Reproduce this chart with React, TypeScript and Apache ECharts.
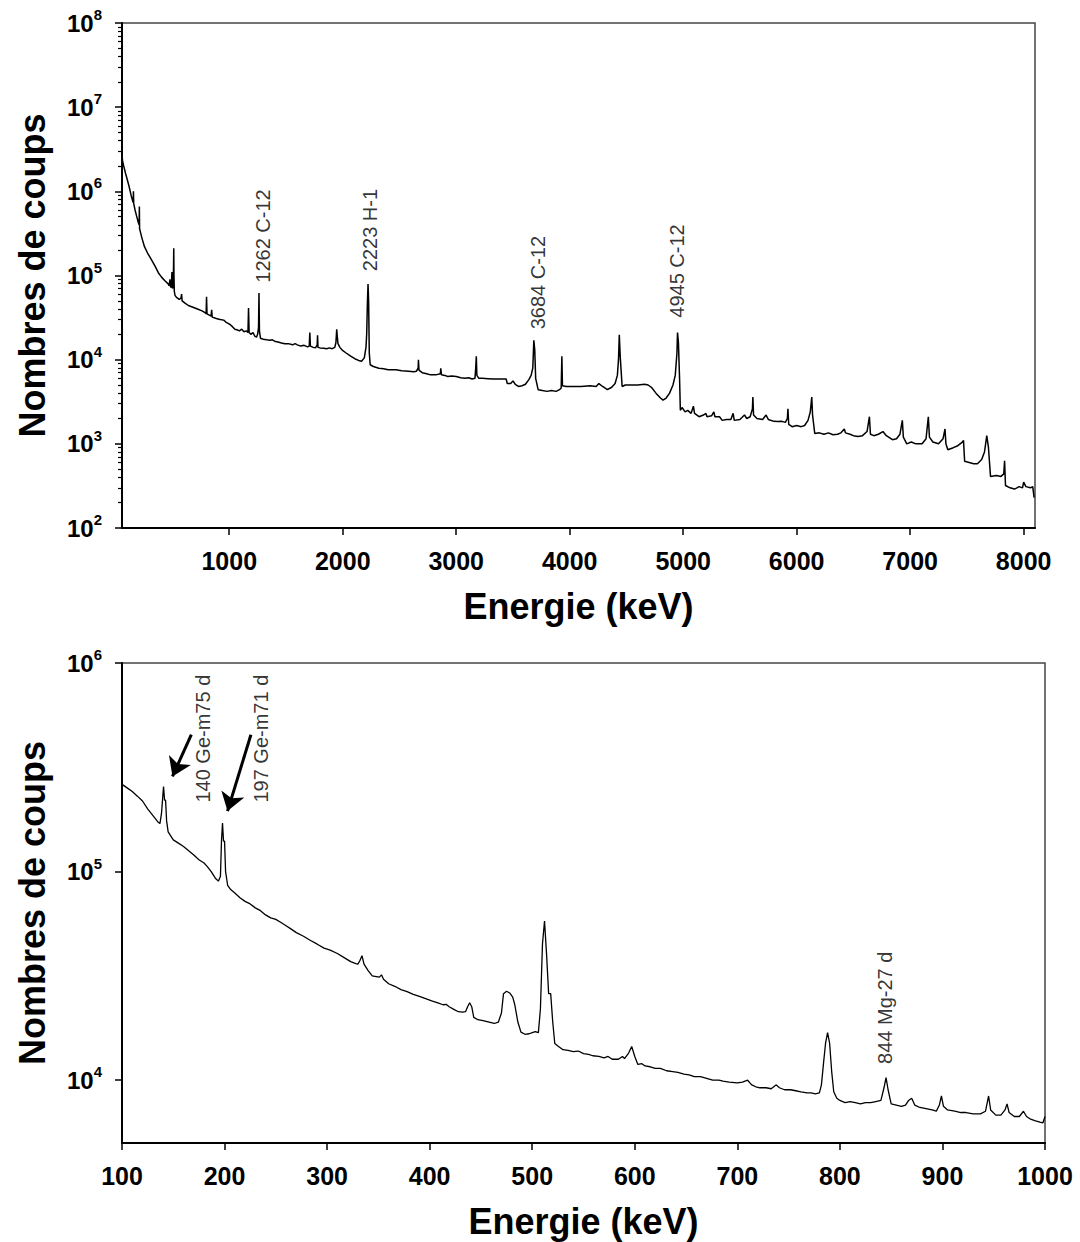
import React, { useEffect, useRef } from "react";
import * as echarts from "echarts";

const FONT = "Liberation Sans, Arial, sans-serif";

// ---- Top spectrum (0 - 8100 keV) : [energy keV, counts]
const topSpectrum: [number, number][] = [
  [56, 2.6e6], [60, 2.3e6], [70, 2.0e6], [86, 1.64e6], [100, 1.4e6], [117, 1.15e6], [135, 9.0e5], [150, 7.6e5],
  [154, 7.4e5], [156, 1.0e6], [158, 7.2e5], [170, 6.0e5], [185, 5.0e5], [200, 4.2e5], [206, 4.0e5], [208, 6.6e5],
  [210, 3.6e5], [230, 2.8e5], [253, 2.2e5], [280, 1.85e5], [314, 1.54e5], [345, 1.3e5], [375, 1.08e5], [405, 9.5e4],
  [435, 8.6e4], [460, 8.0e4], [470, 7.6e4], [478, 9.0e4], [482, 7.4e4], [490, 7.2e4], [495, 1.1e5], [500, 7.0e4],
  [505, 7.5e4], [509, 1.2e5], [511, 2.1e5], [513, 1.0e5], [516, 6.5e4], [522, 5.8e4], [535, 5.5e4], [560, 5.2e4],
  [575, 5.4e4], [580, 6.0e4], [585, 5.0e4], [610, 4.7e4], [640, 4.4e4], [680, 4.2e4], [720, 4.0e4], [760, 3.8e4],
  [790, 3.6e4], [796, 3.5e4], [800, 5.6e4], [804, 3.5e4], [820, 3.4e4], [840, 3.3e4], [845, 3.9e4], [850, 3.2e4],
  [880, 3.1e4], [900, 3.05e4], [920, 3.0e4], [951, 2.95e4], [970, 2.8e4], [990, 2.7e4], [1010, 2.6e4], [1030, 2.45e4],
  [1050, 2.3e4], [1073, 2.25e4], [1090, 2.2e4], [1110, 2.3e4], [1130, 2.15e4], [1150, 2.2e4], [1165, 2.1e4], [1170, 4.1e4],
  [1175, 2.1e4], [1190, 2.0e4], [1210, 2.1e4], [1225, 1.9e4], [1240, 1.85e4], [1250, 2.0e4], [1258, 2.4e4], [1262, 6.2e4],
  [1266, 2.2e4], [1275, 1.8e4], [1300, 1.75e4], [1330, 1.72e4], [1360, 1.7e4], [1380, 1.72e4], [1407, 1.64e4], [1430, 1.62e4],
  [1460, 1.58e4], [1490, 1.55e4], [1520, 1.55e4], [1559, 1.5e4], [1580, 1.55e4], [1600, 1.5e4], [1630, 1.45e4], [1660, 1.48e4],
  [1690, 1.42e4], [1705, 1.45e4], [1710, 2.1e4], [1715, 1.45e4], [1740, 1.4e4], [1760, 1.38e4], [1775, 1.5e4], [1778, 1.95e4],
  [1782, 1.4e4], [1800, 1.38e4], [1832, 1.37e4], [1860, 1.35e4], [1880, 1.38e4], [1907, 1.35e4], [1930, 1.4e4], [1940, 1.6e4],
  [1947, 2.3e4], [1952, 1.9e4], [1958, 1.55e4], [1975, 1.4e4], [1995, 1.3e4], [2030, 1.2e4], [2070, 1.1e4], [2110, 1.02e4],
  [2140, 9.8e3], [2166, 9.6e3], [2190, 1.05e4], [2205, 1.4e4], [2211, 2.0e4], [2218, 5.0e4], [2223, 7.9e4], [2228, 5.0e4],
  [2234, 1.2e4], [2242, 8.7e3], [2270, 8.3e3], [2318, 7.9e3], [2360, 7.8e3], [2400, 7.6e3], [2469, 7.6e3], [2520, 7.4e3],
  [2580, 7.3e3], [2625, 7.2e3], [2650, 7.3e3], [2665, 8.0e3], [2667, 1.0e4], [2672, 7.5e3], [2700, 7.0e3], [2740, 6.8e3],
  [2773, 6.6e3], [2820, 6.6e3], [2860, 6.8e3], [2864, 7.9e3], [2870, 6.6e3], [2900, 6.5e3], [2925, 6.3e3], [2960, 6.4e3],
  [3000, 6.3e3], [3040, 6.1e3], [3077, 6.0e3], [3110, 6.1e3], [3140, 5.9e3], [3165, 6.0e3], [3172, 8.0e3], [3177, 1.1e4],
  [3182, 6.5e3], [3200, 6.0e3], [3230, 6.0e3], [3280, 5.95e3], [3330, 5.9e3], [3380, 5.9e3], [3420, 5.9e3], [3440, 5.9e3],
  [3450, 5.2e3], [3480, 5.2e3], [3500, 5.6e3], [3520, 5.1e3], [3549, 4.8e3], [3580, 4.9e3], [3610, 5.1e3], [3640, 5.8e3],
  [3660, 6.5e3], [3675, 8.0e3], [3684, 1.7e4], [3692, 1.3e4], [3700, 6.0e3], [3722, 4.4e3], [3760, 4.3e3], [3800, 4.2e3],
  [3840, 4.3e3], [3880, 4.2e3], [3910, 4.4e3], [3925, 4.6e3], [3931, 1.1e4], [3936, 4.9e3], [3970, 4.8e3], [4036, 4.8e3],
  [4100, 4.8e3], [4180, 4.9e3], [4233, 4.8e3], [4257, 5.2e3], [4290, 4.8e3], [4332, 4.4e3], [4370, 4.7e3], [4400, 5.2e3],
  [4420, 6.5e3], [4430, 1.0e4], [4437, 1.97e4], [4445, 1.1e4], [4462, 4.8e3], [4490, 5.0e3], [4528, 5.0e3], [4600, 5.0e3],
  [4660, 5.1e3], [4691, 5.0e3], [4720, 4.7e3], [4760, 4.0e3], [4800, 3.5e3], [4822, 3.3e3], [4850, 3.5e3], [4880, 4.0e3],
  [4910, 5.0e3], [4930, 6.5e3], [4945, 1.2e4], [4950, 2.1e4], [4958, 1.6e4], [4968, 6.0e3], [4975, 2.5e3], [4990, 2.7e3],
  [5017, 2.4e3], [5040, 2.5e3], [5070, 2.3e3], [5090, 2.8e3], [5100, 2.3e3], [5140, 2.1e3], [5178, 2.2e3], [5200, 2.3e3],
  [5210, 2.1e3], [5250, 2.15e3], [5270, 2.4e3], [5280, 2.1e3], [5320, 2.1e3], [5344, 1.9e3], [5380, 1.95e3], [5420, 1.95e3],
  [5440, 2.3e3], [5450, 1.9e3], [5500, 1.95e3], [5540, 2.2e3], [5560, 2.0e3], [5590, 2.1e3], [5610, 2.6e3], [5614, 3.6e3],
  [5620, 2.2e3], [5650, 2.0e3], [5700, 1.95e3], [5730, 2.2e3], [5750, 1.95e3], [5800, 1.85e3], [5833, 1.84e3], [5870, 1.85e3],
  [5900, 1.8e3], [5918, 2.0e3], [5923, 2.6e3], [5930, 1.7e3], [5960, 1.6e3], [6000, 1.65e3], [6040, 1.6e3], [6070, 1.65e3],
  [6100, 1.9e3], [6120, 2.4e3], [6133, 3.6e3], [6140, 2.2e3], [6159, 1.33e3], [6200, 1.35e3], [6240, 1.3e3], [6280, 1.35e3],
  [6320, 1.28e3], [6360, 1.3e3], [6390, 1.35e3], [6420, 1.5e3], [6430, 1.35e3], [6470, 1.3e3], [6500, 1.25e3], [6540, 1.22e3],
  [6580, 1.25e3], [6620, 1.4e3], [6641, 2.1e3], [6650, 1.3e3], [6680, 1.25e3], [6720, 1.3e3], [6760, 1.4e3], [6790, 1.25e3],
  [6844, 1.12e3], [6880, 1.15e3], [6910, 1.3e3], [6931, 1.9e3], [6940, 1.2e3], [6970, 1.0e3], [7010, 1.05e3], [7050, 1.0e3],
  [7105, 1.0e3], [7140, 1.15e3], [7160, 2.1e3], [7170, 1.2e3], [7200, 1.05e3], [7250, 1.0e3], [7290, 1.15e3], [7307, 1.5e3],
  [7315, 1.0e3], [7332, 850], [7380, 900], [7420, 950], [7460, 1.05e3], [7470, 1.1e3], [7480, 620], [7520, 600],
  [7560, 580], [7593, 580], [7630, 650], [7655, 800], [7675, 1.25e3], [7690, 900], [7708, 410], [7760, 420],
  [7800, 410], [7825, 440], [7832, 630], [7840, 320], [7880, 300], [7920, 290], [7960, 310], [7990, 300],
  [8000, 350], [8020, 310], [8060, 300], [8080, 310], [8092, 230],
];

// ---- Bottom spectrum (100 - 1000 keV) : [energy keV, counts]
const bottomSpectrum: [number, number][] = [
  [100, 2.62e5], [105, 2.52e5], [110, 2.42e5], [115, 2.3e5], [120, 2.18e5], [125, 2.0e5], [130, 1.86e5], [135, 1.73e5],
  [137, 1.7e5], [138.5, 1.9e5], [139.5, 2.2e5], [140.5, 2.56e5], [141.5, 2.2e5], [142.5, 2.2e5], [143.5, 1.75e5], [145, 1.55e5],
  [150, 1.42e5], [155, 1.37e5], [160, 1.32e5], [165, 1.26e5], [170, 1.2e5], [175, 1.14e5], [180, 1.1e5], [183, 1.06e5],
  [187, 1.0e5], [191, 9.3e4], [194, 9.0e4], [196, 9.5e4], [197, 1.4e5], [198, 1.71e5], [199, 1.4e5], [200, 1.4e5],
  [201, 1.0e5], [203, 8.6e4], [206, 8.2e4], [210, 7.9e4], [215, 7.5e4], [220, 7.2e4], [225, 7.0e4], [230, 6.7e4],
  [235, 6.5e4], [240, 6.2e4], [245, 6.0e4], [250, 5.9e4], [255, 5.7e4], [260, 5.5e4], [265, 5.3e4], [270, 5.1e4],
  [277, 4.9e4], [283, 4.7e4], [290, 4.5e4], [297, 4.3e4], [303, 4.2e4], [310, 4.05e4], [317, 3.86e4], [323, 3.7e4],
  [328, 3.62e4], [330, 3.6e4], [332, 3.75e4], [334, 3.95e4], [336, 3.6e4], [340, 3.35e4], [344, 3.16e4], [348, 3.14e4],
  [351, 3.12e4], [353, 3.2e4], [355, 3.05e4], [360, 2.9e4], [366, 2.82e4], [372, 2.72e4], [378, 2.66e4], [384, 2.58e4],
  [390, 2.52e4], [396, 2.46e4], [402, 2.4e4], [408, 2.35e4], [413, 2.3e4], [416, 2.31e4], [419, 2.25e4], [424, 2.18e4],
  [428, 2.13e4], [432, 2.12e4], [435, 2.13e4], [437, 2.25e4], [439, 2.35e4], [441, 2.25e4], [443, 2.0e4], [447, 1.95e4],
  [452, 1.93e4], [458, 1.9e4], [463, 1.87e4], [467, 1.9e4], [470, 2.1e4], [472, 2.6e4], [475, 2.67e4], [478, 2.62e4],
  [481, 2.5e4], [483, 2.3e4], [486, 1.9e4], [489, 1.7e4], [493, 1.66e4], [497, 1.67e4], [500, 1.69e4], [503, 1.71e4],
  [506, 1.69e4], [508, 2.2e4], [510, 4.5e4], [512, 5.8e4], [514, 4.0e4], [516, 2.6e4], [518, 2.6e4], [520, 1.9e4],
  [522, 1.5e4], [525, 1.46e4], [530, 1.4e4], [535, 1.39e4], [540, 1.37e4], [545, 1.38e4], [550, 1.34e4], [555, 1.33e4],
  [559, 1.31e4], [565, 1.3e4], [570, 1.28e4], [574, 1.3e4], [578, 1.26e4], [584, 1.26e4], [588, 1.3e4], [590, 1.27e4],
  [594, 1.35e4], [597, 1.45e4], [600, 1.3e4], [603, 1.19e4], [607, 1.2e4], [610, 1.17e4], [615, 1.16e4], [620, 1.14e4],
  [625, 1.14e4], [631, 1.11e4], [637, 1.1e4], [642, 1.09e4], [648, 1.07e4], [653, 1.06e4], [658, 1.04e4], [664, 1.04e4],
  [670, 1.02e4], [676, 1.0e4], [682, 1.0e4], [686, 9.9e3], [692, 9.8e3], [700, 9.7e3], [705, 9.8e3], [710, 1.0e4],
  [714, 9.5e3], [718, 9.3e3], [722, 9.2e3], [728, 9.2e3], [733, 9.1e3], [738, 9.5e3], [741, 9.2e3], [746, 9.0e3],
  [752, 9.0e3], [757, 8.9e3], [762, 8.8e3], [768, 8.7e3], [772, 8.7e3], [776, 8.6e3], [780, 8.7e3], [782, 9.5e3],
  [784, 1.2e4], [786, 1.5e4], [788, 1.69e4], [790, 1.5e4], [792, 1.1e4], [794, 8.8e3], [797, 8.2e3], [800, 8.0e3],
  [805, 7.8e3], [810, 7.9e3], [815, 7.8e3], [820, 7.7e3], [825, 7.8e3], [830, 7.8e3], [835, 7.9e3], [840, 8.0e3],
  [843, 9.2e3], [845, 1.03e4], [847, 9.0e3], [850, 7.7e3], [855, 7.6e3], [860, 7.5e3], [864, 7.6e3], [867, 8.0e3],
  [870, 8.2e3], [873, 7.6e3], [878, 7.4e3], [884, 7.3e3], [890, 7.2e3], [894, 7.1e3], [897, 7.6e3], [899, 8.4e3],
  [901, 7.5e3], [905, 7.2e3], [912, 7.1e3], [918, 7.0e3], [923, 7.0e3], [930, 6.9e3], [937, 6.9e3], [942, 7.1e3],
  [945, 8.4e3], [947, 7.2e3], [952, 6.8e3], [957, 6.8e3], [961, 7.2e3], [963, 7.7e3], [965, 7.0e3], [970, 6.7e3],
  [975, 6.7e3], [979, 7.1e3], [982, 6.7e3], [986, 6.5e3], [990, 6.4e3], [995, 6.3e3], [998, 6.25e3], [1000, 6.7e3],
];

// ---- Peak annotations
const topLabelText = ["1262 C-12", "2223 H-1", "3684 C-12", "4945 C-12"];
const topLabelEnergy = [1300, 2242, 3728, 4952];
const topLabelCounts = [8.1e4, 1.11e5, 2.26e4, 3.11e4];

const bottomLabelText = ["140 Ge-m75 d", "197 Ge-m71 d", "844 Mg-27 d"];
const bottomLabelEnergy = [179, 236.5, 844.5];
const bottomLabelCounts = [2.13e5, 2.13e5, 1.19e4];

// arrows: start and end points [energy keV, counts]
const arrowStart: [number, number][] = [[167.6, 4.53e5], [225.7, 4.53e5]];
const arrowEnd: [number, number][] = [[149.2, 2.86e5], [202.9, 1.95e5]];

// ---- Ticks
const topXTicks = [1000, 2000, 3000, 4000, 5000, 6000, 7000, 8000];
const topYTicks = [1e2, 1e3, 1e4, 1e5, 1e6, 1e7, 1e8];
const topYMinorTicks: number[] = [];
for (let d = 2; d < 8; d++) for (let m = 2; m <= 9; m++) topYMinorTicks.push(m * Math.pow(10, d));
const bottomYTicks = [1e4, 1e5, 1e6];

const powLabel = (v: number) => `{a|10}{b|${Math.round(Math.log10(v))}}`;
const powRich = {
  a: { fontSize: 24, fontWeight: "bold", lineHeight: 32, color: "#000", fontFamily: FONT },
  b: { fontSize: 15, fontWeight: "bold", lineHeight: 15, verticalAlign: "top", color: "#000", fontFamily: FONT },
};

const axisLineStyle = { show: true, lineStyle: { color: "#000", width: 2 } };
const tickLabelStyle = {
  fontSize: 25, fontWeight: "bold", color: "#000", fontFamily: FONT,
  formatter: (v: number) => String(v),
};
const titleStyle = { fontSize: 36, fontWeight: "bold", color: "#000", fontFamily: FONT };

function buildOption() {
  const annot = (E: number[], V: number[], T: string[]) =>
    E.map((e, i) => ({ value: [e, V[i]], name: T[i] }));
  const annotLabel = {
    show: true,
    formatter: "{b}",
    position: [0, 0],
    align: "left",
    verticalAlign: "middle",
    rotate: 90,
    fontSize: 20,
    color: "#000",
    fontFamily: FONT,
  };
  return {
    animation: false,
    backgroundColor: "#fff",
    textStyle: { fontFamily: FONT },
    grid: [
      { left: 122, top: 23, width: 913, height: 505, show: true, borderColor: "#444", borderWidth: 1.5 },
      { left: 122, top: 663, width: 923, height: 480, show: true, borderColor: "#444", borderWidth: 1.5 },
    ],
    xAxis: [
      {
        gridIndex: 0, type: "value", min: 55, max: 8100,
        axisLine: axisLineStyle,
        axisTick: { show: true, length: 7, lineStyle: { color: "#000", width: 1.5 }, customValues: topXTicks },
        axisLabel: { ...tickLabelStyle, margin: 20, customValues: topXTicks },
        splitLine: { show: false },
        name: "Energie (keV)", nameLocation: "middle", nameGap: 60, nameTextStyle: titleStyle,
      },
      {
        gridIndex: 1, type: "value", min: 100, max: 1000, interval: 100,
        axisLine: axisLineStyle,
        axisTick: { show: true, length: 7, lineStyle: { color: "#000", width: 1.5 } },
        axisLabel: { ...tickLabelStyle, margin: 20 },
        splitLine: { show: false },
        name: "Energie (keV)", nameLocation: "middle", nameGap: 60, nameTextStyle: titleStyle,
      },
    ],
    yAxis: [
      {
        gridIndex: 0, type: "log", logBase: 10, min: 1e2, max: 1e8, position: "left",
        axisLine: axisLineStyle,
        axisTick: { show: true, length: 7, lineStyle: { color: "#000", width: 1.5 }, customValues: topYTicks },
        axisLabel: { formatter: powLabel, rich: powRich, margin: 20, customValues: topYTicks },
        splitLine: { show: false },
        name: "Nombres de coups", nameLocation: "middle", nameGap: 72, nameRotate: 90, nameTextStyle: titleStyle,
      },
      {
        gridIndex: 0, type: "log", logBase: 10, min: 1e2, max: 1e8, position: "left", offset: 0,
        axisLine: { show: false },
        axisTick: { show: true, length: 4, lineStyle: { color: "#000", width: 1.2 }, customValues: topYMinorTicks },
        axisLabel: { show: false },
        splitLine: { show: false },
      },
      {
        gridIndex: 1, type: "log", logBase: 10, min: 5000, max: 1e6, position: "left",
        axisLine: axisLineStyle,
        axisTick: { show: true, length: 7, lineStyle: { color: "#000", width: 1.5 }, customValues: bottomYTicks },
        axisLabel: { formatter: powLabel, rich: powRich, margin: 20, customValues: bottomYTicks },
        splitLine: { show: false },
        name: "Nombres de coups", nameLocation: "middle", nameGap: 72, nameRotate: 90, nameTextStyle: titleStyle,
      },
    ],
    series: [
      {
        type: "line", xAxisIndex: 0, yAxisIndex: 0, data: topSpectrum, showSymbol: false, silent: true,
        lineStyle: { color: "#000", width: 1.5 },
      },
      {
        type: "scatter", xAxisIndex: 0, yAxisIndex: 0, symbolSize: 1, silent: true,
        itemStyle: { color: "rgba(0,0,0,0)" },
        data: annot(topLabelEnergy, topLabelCounts, topLabelText),
        label: annotLabel,
      },
      {
        type: "line", xAxisIndex: 1, yAxisIndex: 2, data: bottomSpectrum, showSymbol: false, silent: true,
        lineStyle: { color: "#000", width: 1.3 },
        markLine: {
          silent: true, symbol: ["none", "arrow"], symbolSize: 18,
          label: { show: false },
          lineStyle: { color: "#000", width: 3, type: "solid" },
          data: arrowStart.map((s, i) => [{ coord: s }, { coord: arrowEnd[i] }]),
        },
      },
      {
        type: "scatter", xAxisIndex: 1, yAxisIndex: 2, symbolSize: 1, silent: true,
        itemStyle: { color: "rgba(0,0,0,0)" },
        data: annot(bottomLabelEnergy, bottomLabelCounts, bottomLabelText),
        label: annotLabel,
      },
    ],
  };
}

export default function App() {
  const ref = useRef<HTMLDivElement>(null);
  useEffect(() => {
    if (!ref.current) return;
    const chart = echarts.init(ref.current, null, { renderer: "svg" });
    chart.setOption(buildOption() as any);
    return () => chart.dispose();
  }, []);
  return (
    <div
      ref={ref}
      style={{ position: "absolute", left: 0, top: 0, width: 1080, height: 1242, background: "#fff" }}
    />
  );
}
